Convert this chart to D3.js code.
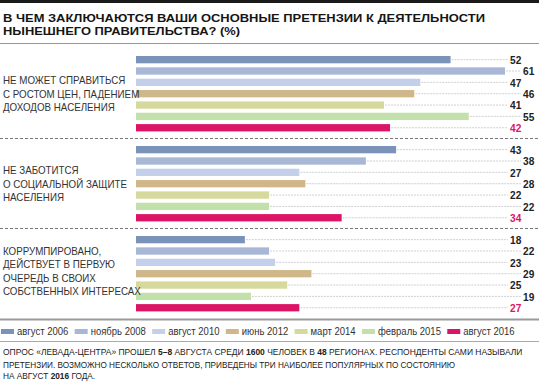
<!DOCTYPE html>
<html>
<head>
<meta charset="utf-8">
<script src="https://cdn.jsdelivr.net/npm/d3@7"></script>
<style>
  body { margin: 0; background: #fff; }
  svg { display: block; }
  .narrow { font-family: "Liberation Sans Narrow", "Arial Narrow", "Liberation Sans", sans-serif; }
</style>
</head>
<body>
<div id="chart"></div>
<script>
// data
var categories = [
  ["НЕ МОЖЕТ СПРАВИТЬСЯ", "С РОСТОМ ЦЕН, ПАДЕНИЕМ", "ДОХОДОВ НАСЕЛЕНИЯ"],
  ["НЕ ЗАБОТИТСЯ", "О СОЦИАЛЬНОЙ ЗАЩИТЕ", "НАСЕЛЕНИЯ"],
  ["КОРРУМПИРОВАНО,", "ДЕЙСТВУЕТ В ПЕРВУЮ", "ОЧЕРЕДЬ В СВОИХ", "СОБСТВЕННЫХ ИНТЕРЕСАХ"]
];
var series = ["август 2006", "ноябрь 2008", "август 2010", "июнь 2012", "март 2014", "февраль 2015", "август 2016"];
var colors = ["#7b93b9", "#a8b7d5", "#c4d0ea", "#d0b78a", "#d5d99b", "#c2e0a9", "#dc1465"];
var values = [
  [52, 61, 47, 46, 41, 55, 42],
  [43, 38, 27, 28, 22, 22, 34],
  [18, 22, 23, 29, 25, 19, 27]
];
var titleLines = ["В ЧЕМ ЗАКЛЮЧАЮТСЯ ВАШИ ОСНОВНЫЕ ПРЕТЕНЗИИ К ДЕЯТЕЛЬНОСТИ", "НЫНЕШНЕГО ПРАВИТЕЛЬСТВА? (%)"];
// footnote: [text, bold]
var noteLines = [
  [["ОПРОС «ЛЕВАДА-ЦЕНТРА» ПРОШЕЛ ", false], ["5–8", true], [" АВГУСТА СРЕДИ ", false], ["1600", true], [" ЧЕЛОВЕК В ", false], ["48", true], [" РЕГИОНАХ. РЕСПОНДЕНТЫ САМИ НАЗЫВАЛИ", false]],
  [["ПРЕТЕНЗИИ. ВОЗМОЖНО НЕСКОЛЬКО  ОТВЕТОВ, ПРИВЕДЕНЫ ТРИ НАИБОЛЕЕ ПОПУЛЯРНЫХ ПО СОСТОЯНИЮ", false]],
  [["НА АВГУСТ ", false], ["2016", true], [" ГОДА.", false]]
];

var W = 539, H = 381;

// squeeze a text horizontally (the original uses a condensed face)
function squeeze(sel, k) {
  sel.each(function () {
    var w = this.getComputedTextLength();
    d3.select(this).attr("textLength", w * k).attr("lengthAdjust", "spacingAndGlyphs");
  });
}

var svg = d3.select("#chart").append("svg")
  .attr("width", W)
  .attr("height", H)
  .attr("class", "narrow");

// top black rule
svg.append("rect").attr("x", 0).attr("y", 0).attr("width", W).attr("height", 3).attr("fill", "#1a1a1a");

// title
var titleW = [482, 237];
svg.selectAll(".title").data(titleLines).enter().append("text")
  .attr("class", "title")
  .attr("x", 3)
  .attr("y", (d, i) => 21.9 + i * 13)
  .style("font-size", "11.6px")
  .style("font-weight", "bold")
  .attr("fill", "#151515")
  .text(d => d)
  .attr("textLength", (d, i) => titleW[i])
  .attr("lengthAdjust", "spacingAndGlyphs");

svg.append("line").attr("x1", 0).attr("x2", W).attr("y1", 43.5).attr("y2", 43.5)
  .attr("stroke", "#999").attr("stroke-width", 1);

// scales
var x = d3.scaleLinear().domain([0, 61]).range([136, 505]);

var yGroup = d3.scaleBand()
  .domain(d3.range(categories.length))
  .range([56, 326])
  .padding(0);

var yBar = d3.scaleBand()
  .domain(series)
  .range([0, 75.4])
  .paddingInner(0.357)
  .paddingOuter(0);

var groups = svg.selectAll(".grp").data(values).enter().append("g")
  .attr("class", "grp")
  .attr("transform", (d, i) => `translate(0,${yGroup(i)})`);

// separators between groups
groups.filter((d, i) => i > 0).append("line")
  .attr("x1", 0).attr("x2", W)
  .attr("y1", -7.5).attr("y2", -7.5)
  .attr("stroke", "#777")
  .attr("stroke-dasharray", "3,2");

// leader lines
groups.selectAll(".lead").data(d => d.map((v, j) => ({v: v, j: j}))).enter().append("line")
  .attr("class", "lead")
  .attr("x1", d => x(d.v) + 1)
  .attr("x2", d => d.j % 2 ? 521 : 508)
  .attr("y1", d => yBar(series[d.j]) + yBar.bandwidth() / 2)
  .attr("y2", d => yBar(series[d.j]) + yBar.bandwidth() / 2)
  .attr("stroke", "#c4c4c4")
  .attr("stroke-width", 0.8)
  .attr("stroke-dasharray", "2,1");

// bars
groups.selectAll("rect").data(d => d.map((v, j) => ({v: v, j: j}))).enter().append("rect")
  .attr("x", x(0))
  .attr("y", d => yBar(series[d.j]))
  .attr("width", d => x(d.v) - x(0))
  .attr("height", yBar.bandwidth())
  .attr("fill", d => colors[d.j]);

// value labels
groups.selectAll(".val").data(d => d.map((v, j) => ({v: v, j: j}))).enter().append("text")
  .attr("class", "val")
  .attr("x", d => d.j % 2 ? 523 : 510)
  .attr("y", d => yBar(series[d.j]) + yBar.bandwidth() / 2 + 4.2)
  .style("font-size", "11.5px")
  .style("font-weight", "bold")
  .attr("fill", d => d.j === series.length - 1 ? "#dc1465" : "#222")
  .text(d => d.v)
  .call(squeeze, 0.88);

// category labels
groups.each(function (d, i) {
  var lines = categories[i];
  var mid = yBar.range()[1] / 2 + (i === 2 ? -2.4 : 0);
  d3.select(this).selectAll(".cat").data(lines).enter().append("text")
    .attr("class", "cat")
    .attr("x", 3)
    .attr("y", (t, k) => mid + (k - (lines.length - 1) / 2) * 13.5 + 3.8)
    .style("font-size", "10.5px")
    .attr("fill", "#333")
    .text(t => t)
    .call(squeeze, 0.93);
});

// bottom rule
svg.append("line").attr("x1", 0).attr("x2", W).attr("y1", 319.5).attr("y2", 319.5)
  .attr("stroke", "#999").attr("stroke-width", 2);

// legend, spread across the width
var legend = svg.append("g");
var items = legend.selectAll(".leg").data(series).enter().append("g").attr("class", "leg");
items.append("rect").attr("x", 0).attr("y", 329).attr("width", 13).attr("height", 5)
  .attr("fill", (d, i) => colors[i]);
items.append("text").attr("x", 16).attr("y", 335)
  .style("font-size", "10px").attr("fill", "#333").text(d => d)
  .call(squeeze, 0.95);
var widths = [];
items.each(function () { widths.push(this.getBBox().width); });
var gap = (515 - 1 - d3.sum(widths)) / (series.length - 1);
var pos = 1;
items.attr("transform", (d, i) => { var t = `translate(${pos},0)`; pos += widths[i] + gap; return t; });

svg.append("line").attr("x1", 0).attr("x2", W).attr("y1", 341.5).attr("y2", 341.5)
  .attr("stroke", "#aaa").attr("stroke-width", 1);

// footnote, each line scaled to the width it has in the original
var noteW = [520, 452, 92];
var noteY = [354.5, 367.5, 379];
svg.selectAll(".note").data(noteLines).enter().append("g")
  .attr("class", "note")
  .each(function (d, i) {
    var g = d3.select(this);
    var t = g.append("text")
      .style("font-size", "9.2px")
      .attr("fill", "#222");
    t.selectAll("tspan").data(d).enter().append("tspan")
      .style("font-weight", p => p[1] ? "bold" : "normal")
      .text(p => p[0]);
    var k = noteW[i] / t.node().getComputedTextLength();
    g.attr("transform", `translate(3,${noteY[i]}) scale(${k},1)`);
  });
</script>
</body>
</html>
